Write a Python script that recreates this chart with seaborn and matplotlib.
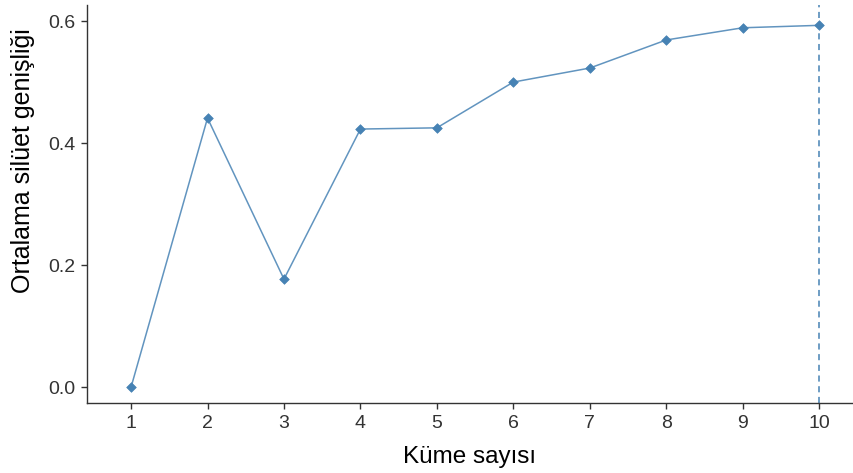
import matplotlib
matplotlib.use("Agg")
import matplotlib.pyplot as plt
import seaborn as sns
import pandas as pd

# Average silhouette width per number of clusters
clusters = [1, 2, 3, 4, 5, 6, 7, 8, 9, 10]
silhouette = [0.0, 0.441, 0.177, 0.423, 0.425, 0.500, 0.523, 0.569, 0.589, 0.593]
yticks = [0.0, 0.2, 0.4, 0.6]
best_k = 10

sns.set_theme(style="ticks")
plt.rcParams["font.family"] = ["Liberation Sans", "DejaVu Sans"]

df = pd.DataFrame({"k": clusters, "s": silhouette})

fig = plt.figure(figsize=(8.54, 4.73), dpi=100)
ax = fig.add_axes([0.1019, 0.148, 0.8958, 0.841])

sns.lineplot(data=df, x="k", y="s", ax=ax, color="#4682B4", linewidth=1.1,
             alpha=0.85, zorder=2)
sns.scatterplot(data=df, x="k", y="s", ax=ax, color="#4682B4", marker="D",
                s=24, edgecolor="#4682B4", linewidth=0.5, zorder=3)
ax.axvline(best_k, color="#4682B4", linestyle=(0, (4, 3)), linewidth=1.1)

ax.set_xlim(0.424, 10.43)
ax.set_ylim(-0.026, 0.626)
ax.set_xticks(clusters)
ax.set_xticklabels([str(c) for c in clusters])
ax.set_yticks(yticks)
ax.set_yticklabels([f"{v:.1f}" for v in yticks])

ax.set_xlabel("Küme sayısı", fontsize=17.5, color="black", labelpad=10)
ax.set_ylabel("Ortalama silüet genişliği", fontsize=18, color="black", labelpad=8)
ax.yaxis.set_label_coords(-0.068, 0.61)
ax.tick_params(axis="both", labelsize=14, colors="#333333", length=4.5, width=1.0,
               labelcolor="#333333", pad=4)
for side in ("top", "right"):
    ax.spines[side].set_visible(False)
for side in ("left", "bottom"):
    ax.spines[side].set_color("#333333")
    ax.spines[side].set_linewidth(1.0)

fig.savefig("out.png", dpi=100)
